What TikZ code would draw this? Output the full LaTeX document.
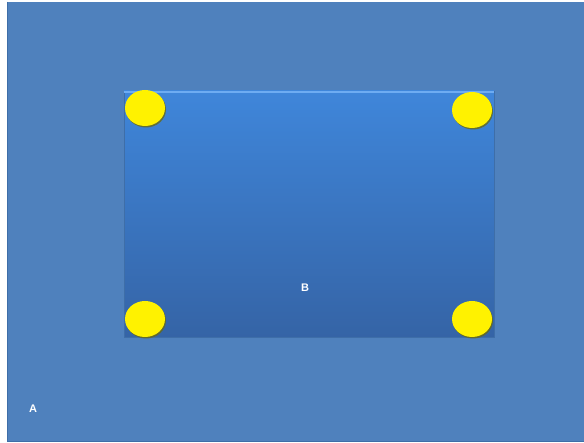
\documentclass[tikz,border=0pt]{standalone}
\usepackage{fontspec}
\setsansfont{Liberation Sans}
\usetikzlibrary{shapes.geometric,shadows}

\definecolor{slideblue}{HTML}{4F81BD}
\definecolor{slideedge}{HTML}{3E6EA8}
\definecolor{boxtop}{HTML}{3F86DA}
\definecolor{boxbot}{HTML}{3564A6}
\definecolor{boxrim}{HTML}{6EACF2}
\definecolor{spotshade}{HTML}{6B6B10}

\tikzset{
  panel/.style={rectangle, inner sep=0pt, minimum width=370, minimum height=246,
    top color=boxtop, bottom color=boxbot, draw=slideedge, line width=0.6pt,
    drop shadow={shadow xshift=1pt, shadow yshift=-1.5pt, opacity=0.35}},
  spot/.style={ellipse, fill=yellow, inner sep=0pt, minimum width=40, minimum height=36,
    drop shadow={shadow xshift=1pt, shadow yshift=-1.5pt, fill=spotshade, opacity=0.8}},
  tag/.style={text=white, font=\sffamily\bfseries\fontsize{11}{12}\selectfont, inner sep=0pt}
}

\begin{document}
\begin{tikzpicture}[x=1pt, y=-1pt]
  \useasboundingbox (0,0) rectangle (584,443);
  \fill[white] (0,0) rectangle (584,443);

  % Fond
  \fill[slideblue] (7,2) rectangle (584,441);
  \draw[slideedge, line width=0.5pt] (7,2) -- (7,441) -- (584,441);

  % Cadre B
  \node[panel] (b) at (309,214) {};
  \draw[boxrim, line width=2.5pt] ([yshift=-1.5pt]b.north west) -- ([yshift=-1.5pt]b.north east);

  % Coins
  \node[spot] (tl) at (145,108) {};
  \node[spot] (tr) at (472,110) {};
  \node[spot] (bl) at (145,319) {};
  \node[spot] (br) at (472,319) {};

  % Etiquettes
  \node[tag] (lb) at (305,288) {B};
  \node[tag] (la) at (33,409) {A};
\end{tikzpicture}
\end{document}
